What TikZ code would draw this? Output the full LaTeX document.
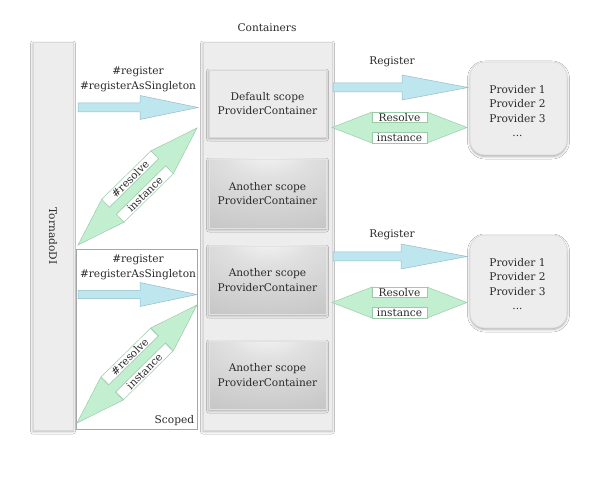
\documentclass[tikz,border=0pt]{standalone}
\usepackage{fontspec}
\setmainfont{DejaVu Serif}
\usetikzlibrary{calc,shadows.blur}

\definecolor{txt}{HTML}{2A2A2A}
\definecolor{boxfill}{HTML}{EDEDED}
\definecolor{boxline}{HTML}{D9D9D9}
\definecolor{deffill}{HTML}{EBEBEB}
\definecolor{anotherline}{HTML}{E2E2E2}
\definecolor{scopedline}{HTML}{A6A6A6}
\definecolor{bluefill}{HTML}{BEE6EF}
\definecolor{blueline}{HTML}{95BEC8}
\definecolor{greenfill}{HTML}{C1EFCF}
\definecolor{greenline}{HTML}{9CCBA9}
\definecolor{shadeA}{HTML}{FAFAFA}
\definecolor{shadeB}{HTML}{E0E0E0}
\definecolor{shadeC}{HTML}{BCBCBC}

\pgfdeclareradialshading{anothershade}{\pgfpoint{0bp}{36bp}}{%
  color(0bp)=(shadeA); color(18bp)=(shadeB); color(62bp)=(shadeC); color(100bp)=(shadeC)}

\tikzset{
  lbl/.style={text=txt, font=\fontsize{10.6}{14.5}\selectfont, align=center, inner sep=0pt},
  sh/.style={blur shadow={shadow xshift=0pt, shadow yshift=-1.5pt, shadow blur radius=2.5pt, shadow opacity=35}},
  panel/.style={sh, fill=boxfill, draw=boxline, line width=0.6pt, inner sep=0pt},
  defbox/.style={panel, fill=deffill, lbl},
  anotherbox/.style={sh, shading=anothershade, draw=anotherline, line width=0.8pt, inner sep=0pt},
  provbox/.style={panel, rounded corners=15pt},
  scopedbox/.style={draw=scopedline, fill=white, line width=0.6pt, inner sep=0pt},
  bluearrow/.style={fill=bluefill, draw=blueline, line width=0.5pt, line join=miter},
  greenarrow/.style={fill=greenfill, draw=greenline, line width=0.5pt, line join=miter},
  tag/.style={lbl, fill=white, draw=greenline, line width=0.5pt},
}

% single arrow: style, tail, tip, head length, head half width, shaft half width
\newcommand\fatarrow[6]{%
  \draw[#1] ($(#2)!#6!90:(#3)$)
    -- ($(#3)!#4!(#2)!#6!-90:(#2)$)
    -- ($(#3)!#4!(#2)!#5!-90:(#2)$)
    -- (#3)
    -- ($(#3)!#4!(#2)!#5!90:(#2)$)
    -- ($(#3)!#4!(#2)!#6!90:(#2)$)
    -- ($(#2)!#6!-90:(#3)$) -- cycle;}
% double arrow: style, end A, end B, head length, head half width, shaft half width
\newcommand\dblarrow[6]{%
  \draw[#1] (#2)
    -- ($(#2)!#4!(#3)!#5!90:(#3)$)
    -- ($(#2)!#4!(#3)!#6!90:(#3)$)
    -- ($(#3)!#4!(#2)!#6!-90:(#2)$)
    -- ($(#3)!#4!(#2)!#5!-90:(#2)$)
    -- (#3)
    -- ($(#3)!#4!(#2)!#5!90:(#2)$)
    -- ($(#3)!#4!(#2)!#6!90:(#2)$)
    -- ($(#2)!#4!(#3)!#6!-90:(#3)$)
    -- ($(#2)!#4!(#3)!#5!-90:(#3)$)
    -- cycle;}

\begin{document}
\begin{tikzpicture}[x=1pt,y=-1pt]
\useasboundingbox[fill=white] (0,0) rectangle (600,481);

% TornadoDI bar
\node[panel, minimum width=40pt, minimum height=388pt] (tornado) at (53,236) {};
\node[lbl, rotate=-90] (tornadolbl) at (tornado.center) {TornadoDI};

% Containers
\node[panel, minimum width=129pt, minimum height=388pt] (containers) at (267.5,236) {};
\node[lbl, anchor=base] (containerslbl) at (267,32) {Containers};

% Scoped box
\node[scopedbox, minimum width=121pt, minimum height=180pt] (scoped) at (136.5,339) {};
\node[lbl, anchor=south east] (scopedlbl) at ($(scoped.south east)+(-3,-3)$) {Scoped};

% inner containers
\node[defbox, minimum width=117pt, minimum height=67pt] (default) at (267.5,103.5) {Default scope\\ProviderContainer};
\node[anotherbox, minimum width=117pt, minimum height=69pt] (another1) at (267.5,193.5) {};
\node[lbl] at (another1.center) {Another scope\\ProviderContainer};
\node[anotherbox, minimum width=117pt, minimum height=68pt] (another2) at (267.5,280) {};
\node[lbl] at (another2.center) {Another scope\\ProviderContainer};
\node[anotherbox, minimum width=117pt, minimum height=68pt] (another3) at (267.5,375) {};
\node[lbl] at (another3.center) {Another scope\\ProviderContainer};

% providers
\node[provbox, minimum width=97pt, minimum height=93pt] (prov1) at (518.5,108.5) {};
\node[lbl] at (517.5,111) {Provider 1\\Provider 2\\Provider 3\\...};
\node[provbox, minimum width=97pt, minimum height=93pt] (prov2) at (518.5,281.5) {};
\node[lbl] at (517.5,284) {Provider 1\\Provider 2\\Provider 3\\...};

% coordinates of arrow ends
\coordinate (r1t) at (78,107.5);  \coordinate (r1h) at (198,107.5);
\coordinate (r2t) at (78,294.5);  \coordinate (r2h) at (197,294.5);
\coordinate (r3t) at (333,87.5);  \coordinate (r3h) at (468,87.5);
\coordinate (r4t) at (333,256.5); \coordinate (r4h) at (467,256.5);
\coordinate (d1a) at (332,127.5); \coordinate (d1b) at (467,127.5);
\coordinate (d2a) at (332,302.5); \coordinate (d2b) at (467,302.5);
\coordinate (g1a) at (78,245);    \coordinate (g1b) at (197,128);
\coordinate (g2a) at (77,423);    \coordinate (g2b) at (197,305);

% register arrows
\fatarrow{bluearrow}{r1t}{r1h}{58pt}{12pt}{4.5pt}
\fatarrow{bluearrow}{r2t}{r2h}{57pt}{12pt}{4pt}
\fatarrow{bluearrow}{r3t}{r3h}{66pt}{12.5pt}{4.5pt}
\fatarrow{bluearrow}{r4t}{r4h}{66pt}{12.5pt}{4.5pt}

\node[lbl] (reg1) at (138,79.5) {\#register\\\#registerAsSingleton};
\node[lbl] (reg2) at (138,267.5) {\#register\\\#registerAsSingleton};
\node[lbl] (reg3) at (392,62) {Register};
\node[lbl] (reg4) at (392,235) {Register};

% resolve arrows (right)
\dblarrow{greenarrow}{d1a}{d1b}{40pt}{15.5pt}{5pt}
\dblarrow{greenarrow}{d2a}{d2b}{40pt}{15.5pt}{5pt}
\node[tag, minimum width=55pt, minimum height=10.5pt] at ($($(d1a)!0.5!(d1b)$)!10.25pt!90:(d1b)$) {Resolve};
\node[tag, minimum width=55pt, minimum height=10.5pt] at ($($(d1a)!0.5!(d1b)$)!10.25pt!-90:(d1b)$) {instance};
\node[tag, minimum width=55pt, minimum height=10.5pt] at ($($(d2a)!0.5!(d2b)$)!10.25pt!90:(d2b)$) {Resolve};
\node[tag, minimum width=55pt, minimum height=10.5pt] at ($($(d2a)!0.5!(d2b)$)!10.25pt!-90:(d2b)$) {instance};

% resolve arrows (diagonal)
\dblarrow{greenarrow}{g1a}{g1b}{49pt}{16pt}{5pt}
\dblarrow{greenarrow}{g2a}{g2b}{49pt}{16pt}{5pt}
\node[tag, rotate=44.5, minimum width=69pt, minimum height=11pt] at ($($(g1a)!0.5!(g1b)$)!10.5pt!90:(g1b)$) {\#resolve};
\node[tag, rotate=44.5, minimum width=69pt, minimum height=11pt] at ($($(g1a)!0.5!(g1b)$)!10.5pt!-90:(g1b)$) {instance};
\node[tag, rotate=44.5, minimum width=69pt, minimum height=11pt] at ($($(g2a)!0.5!(g2b)$)!10.5pt!90:(g2b)$) {\#resolve};
\node[tag, rotate=44.5, minimum width=69pt, minimum height=11pt] at ($($(g2a)!0.5!(g2b)$)!10.5pt!-90:(g2b)$) {instance};
\end{tikzpicture}
\end{document}
